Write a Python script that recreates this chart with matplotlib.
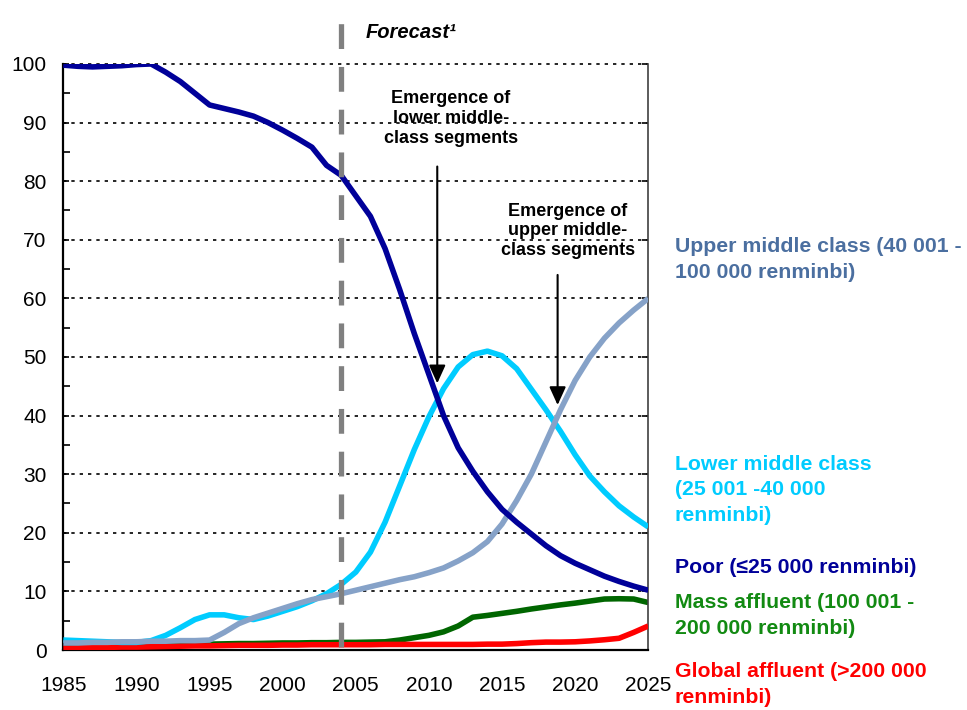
import matplotlib
matplotlib.use("Agg")
import matplotlib.pyplot as plt

# Share of urban households by income segment, %
YEARS = list(range(1985, 2026))

POOR = [99.8, 99.6, 99.5, 99.6, 99.7, 99.9, 100.0, 98.6, 97.0, 95.0,
        93.0, 92.4, 91.8, 91.1, 90.0, 88.7, 87.3, 85.8, 82.7, 81.0,
        77.5, 74.0, 68.5, 61.5, 54.0, 47.0, 40.0, 34.5, 30.5, 27.0,
        24.0, 21.8, 19.8, 17.8, 16.1, 14.8, 13.7, 12.6, 11.7, 10.9,
        10.2]
LOWER_MIDDLE = [1.7, 1.6, 1.5, 1.4, 1.3, 1.3, 1.6, 2.5, 3.8, 5.2,
                6.0, 6.0, 5.5, 5.2, 5.8, 6.6, 7.4, 8.4, 9.6, 11.2,
                13.3, 16.7, 21.8, 28.0, 34.2, 39.8, 44.6, 48.3, 50.4, 51.0,
                50.2, 48.0, 44.5, 41.0, 37.3, 33.3, 29.7, 27.0, 24.6, 22.7,
                21.0]
UPPER_MIDDLE = [1.2, 1.2, 1.3, 1.3, 1.4, 1.4, 1.5, 1.5, 1.6, 1.6,
                1.7, 3.0, 4.5, 5.5, 6.3, 7.1, 7.9, 8.6, 9.1, 9.6,
                10.2, 10.8, 11.4, 12.0, 12.5, 13.2, 14.0, 15.2, 16.6, 18.5,
                21.5, 25.5, 30.0, 35.5, 41.0, 46.0, 50.0, 53.2, 55.8, 58.0,
                60.0]
MASS_AFFLUENT = [0.6, 0.65, 0.7, 0.75, 0.8, 0.85, 0.9, 0.9, 0.95, 1.0,
                 1.0, 1.05, 1.1, 1.1, 1.15, 1.2, 1.2, 1.25, 1.25, 1.3,
                 1.3, 1.35, 1.4, 1.7, 2.1, 2.5, 3.1, 4.1, 5.6, 5.9,
                 6.25, 6.6, 7.0, 7.35, 7.7, 8.0, 8.35, 8.7, 8.75, 8.7,
                 8.1]
GLOBAL_AFFLUENT = [0.3, 0.35, 0.4, 0.45, 0.5, 0.5, 0.55, 0.6, 0.65, 0.7,
                   0.7, 0.75, 0.8, 0.8, 0.8, 0.85, 0.85, 0.9, 0.9, 0.9,
                   0.9, 0.9, 0.95, 0.95, 0.95, 0.95, 0.95, 0.95, 0.95, 1.0,
                   1.0, 1.1, 1.25, 1.35, 1.35, 1.4, 1.55, 1.75, 2.0, 3.0,
                   4.1]

FORECAST_START = 2004
LOWER_ARROW = (2010.57, 82.5, 45.5)   # x, from, to
UPPER_ARROW = (2018.8, 64.0, 41.8)

NAVY = '#000099'
CYAN = '#00CCFF'
STEEL = '#86A2C8'
STEEL_TEXT = '#4B6FA0'
GREEN = '#006600'
GREEN_TEXT = '#128A12'
RED = '#FF0000'

plt.rcParams['font.family'] = ['Liberation Sans', 'DejaVu Sans']

fig = plt.figure(figsize=(9.67, 7.10), dpi=100, facecolor='white')
ax = fig.add_axes([0.0655, 0.0845, 0.6049, 0.8254])

# dotted gridlines (the one at 100 doubles as the top edge)
for y in range(10, 101, 10):
    ax.axhline(y, color='black', lw=1.2, linestyle=(0, (2, 3)),
               zorder=1, clip_on=False)

lw = 4.0
ax.plot(YEARS, MASS_AFFLUENT, color=GREEN, lw=lw, zorder=2,
        solid_capstyle='butt')
ax.plot(YEARS, GLOBAL_AFFLUENT, color=RED, lw=lw, zorder=3,
        solid_capstyle='butt')
ax.plot(YEARS, LOWER_MIDDLE, color=CYAN, lw=lw, zorder=4,
        solid_capstyle='butt')
ax.plot(YEARS, UPPER_MIDDLE, color=STEEL, lw=lw, zorder=5,
        solid_capstyle='butt')
ax.plot(YEARS, POOR, color=NAVY, lw=lw, zorder=6, solid_capstyle='butt')

# forecast divider
ax.plot([FORECAST_START, FORECAST_START], [0.5, 108.7], color='#808080',
        lw=3.8, dashes=(4.7, 3.4), zorder=7, clip_on=False)
ax.text(FORECAST_START + 1.7, 105.3, 'Forecast\u00b9', fontsize=14.5,
        fontweight='bold', fontstyle='italic', ha='left', va='center',
        clip_on=False)

# emergence annotations
for (x, y0, y1) in (LOWER_ARROW, UPPER_ARROW):
    ax.annotate('', xy=(x, y1), xytext=(x, y0),
                arrowprops=dict(arrowstyle='-|>,head_length=1.1,head_width=0.5',
                                mutation_scale=10, color='black', lw=1.5,
                                shrinkA=0, shrinkB=0), zorder=8)
ax.text(2011.5, 90.7, 'Emergence of\nlower middle-\nclass segments',
        fontsize=13, fontweight='bold', ha='center', va='center',
        linespacing=1.2, zorder=8)
ax.text(2019.5, 71.5, 'Emergence of\nupper middle-\nclass segments',
        fontsize=13, fontweight='bold', ha='center', va='center',
        linespacing=1.2, zorder=8)

ax.set_xlim(1985, 2025)
ax.set_ylim(0, 100)
ax.set_xticks(range(1985, 2026, 5))
ax.set_yticks(range(0, 101, 10))
ax.set_yticks(range(5, 100, 10), minor=True)
ax.tick_params(axis='x', length=0, pad=19, labelsize=15)
ax.tick_params(axis='y', which='major', direction='in', length=4,
               width=1.2, right=True, pad=12, labelsize=15)
ax.tick_params(axis='y', which='minor', direction='in', length=5,
               width=1.2)

ax.spines['top'].set_visible(False)
ax.spines['left'].set_linewidth(1.6)
ax.spines['bottom'].set_linewidth(1.6)
ax.spines['right'].set_linewidth(1.2)
ax.spines['right'].set_color('#404040')

# segment labels to the right of the plot
labels = [
    ('Upper middle class (40 001 -\n100 000 renminbi)', STEEL_TEXT, 0.634),
    ('Lower middle class\n(25 001 -40 000\nrenminbi)', CYAN, 0.310),
    ('Poor (\u226425 000 renminbi)', NAVY, 0.2014),
    ('Mass affluent (100 001 -\n200 000 renminbi)', GREEN_TEXT, 0.1331),
    ('Global affluent (>200 000\nrenminbi)', RED, 0.0359),
]
for text, color, y in labels:
    fig.text(0.698, y, text, color=color, fontsize=15.3, fontweight='bold',
             ha='left', va='center', linespacing=1.45)

fig.savefig('out.png', dpi=100, facecolor='white')
